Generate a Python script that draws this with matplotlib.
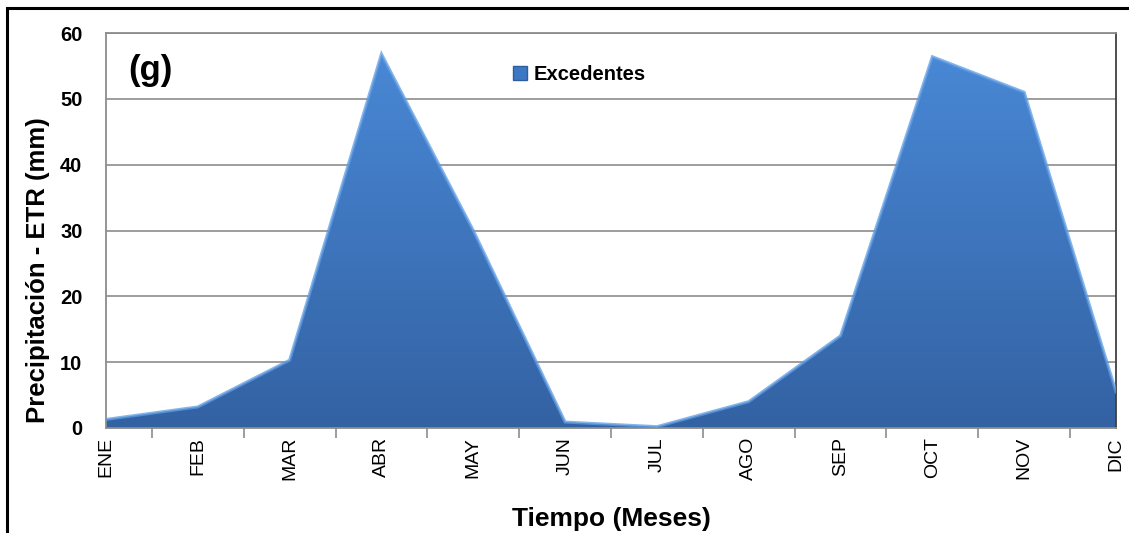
import numpy as np
import matplotlib
matplotlib.use("Agg")
import matplotlib.pyplot as plt
from matplotlib.patches import Polygon, Patch, Rectangle

plt.rcParams["font.family"] = ["Liberation Sans", "DejaVu Sans"]

# ── Data ─────────────────────────────────────────────────────
meses = ["ENE", "FEB", "MAR", "ABR", "MAY", "JUN",
         "JUL", "AGO", "SEP", "OCT", "NOV", "DIC"]
excedentes = [1.3, 3.2, 10.3, 56.8, 30.0, 0.9,
              0.2, 4.0, 14.0, 56.4, 51.0, 5.5]

x = np.arange(len(meses))
y = np.array(excedentes)

fig = plt.figure(figsize=(11.29, 5.33), dpi=100)
ax = fig.add_axes([0.0939, 0.197, 0.8946, 0.741])

# outer frame of the original figure
fig.patches.append(Rectangle((7 / 1129, -0.05), 1.2, 1 - 8 / 533 + 0.05,
                             transform=fig.transFigure, fill=False,
                             edgecolor="black", linewidth=2.2, zorder=0))

# ── Area with vertical gradient ──────────────────────────────
verts = np.column_stack([np.r_[x[0], x, x[-1]], np.r_[0, y, 0]])
poly = Polygon(verts, closed=True, facecolor="none", edgecolor="none")
ax.add_patch(poly)

grad = np.linspace(0, 1, 256).reshape(-1, 1)
top_c = np.array([0x4a, 0x8a, 0xd8]) / 255
bot_c = np.array([0x33, 0x62, 0xa3]) / 255
img = top_c * (1 - grad[..., None]) + bot_c * grad[..., None]
im = ax.imshow(img, extent=[x[0], x[-1], 0, 60], aspect="auto",
               origin="upper", zorder=2, interpolation="bilinear")
im.set_clip_path(poly)

# bevel edge
ax.plot(x, y, color="#5e9ce3", linewidth=2.2, zorder=3, alpha=0.75,
        solid_joinstyle="miter")

# ── Axes styling ─────────────────────────────────────────────
ax.set_xlim(0, 11)
ax.set_ylim(0, 60)
ax.set_yticks(np.arange(0, 61, 10))
ax.yaxis.grid(True, color="#8c8c8c", linewidth=1.2)
ax.set_axisbelow(True)
ax.tick_params(axis="y", length=0, labelsize=14.5, pad=17)
for lab in ax.get_yticklabels():
    lab.set_fontweight("bold")

ax.set_xticks(x)
ax.set_xticklabels(meses, rotation=90, fontsize=14)
ax.tick_params(axis="x", which="major", length=0, pad=6.5)
ax.set_xticks(np.r_[np.arange(0.5, 11, 1), 11], minor=True)
ax.tick_params(axis="x", which="minor", length=7, color="#8c8c8c",
               width=1.2)

for s in ["left", "bottom", "top"]:
    ax.spines[s].set_color("#8c8c8c")
    ax.spines[s].set_linewidth(1.3)
ax.spines["right"].set_color("#404040")
ax.spines["right"].set_linewidth(1.3)

ax.set_ylabel("Precipitación - ETR (mm)", fontsize=18.5, fontweight="bold")
ax.yaxis.set_label_coords(-0.055, 0.40)
ax.set_xlabel("Tiempo (Meses)", fontsize=19, fontweight="bold", labelpad=19)

ax.text(0.022, 0.906, "(g)", transform=ax.transAxes, fontsize=25,
        fontweight="bold", va="center", ha="left")

handle = Patch(facecolor="#3d78c4", edgecolor="#2e5d9c")
leg = ax.legend([handle], ["Excedentes"], loc="center left",
                bbox_to_anchor=(0.385, 0.895), frameon=False,
                handlelength=0.7, handleheight=0.7, handletextpad=0.3,
                prop={"weight": "bold", "size": 14.5})

fig.savefig("out.png", dpi=100)
